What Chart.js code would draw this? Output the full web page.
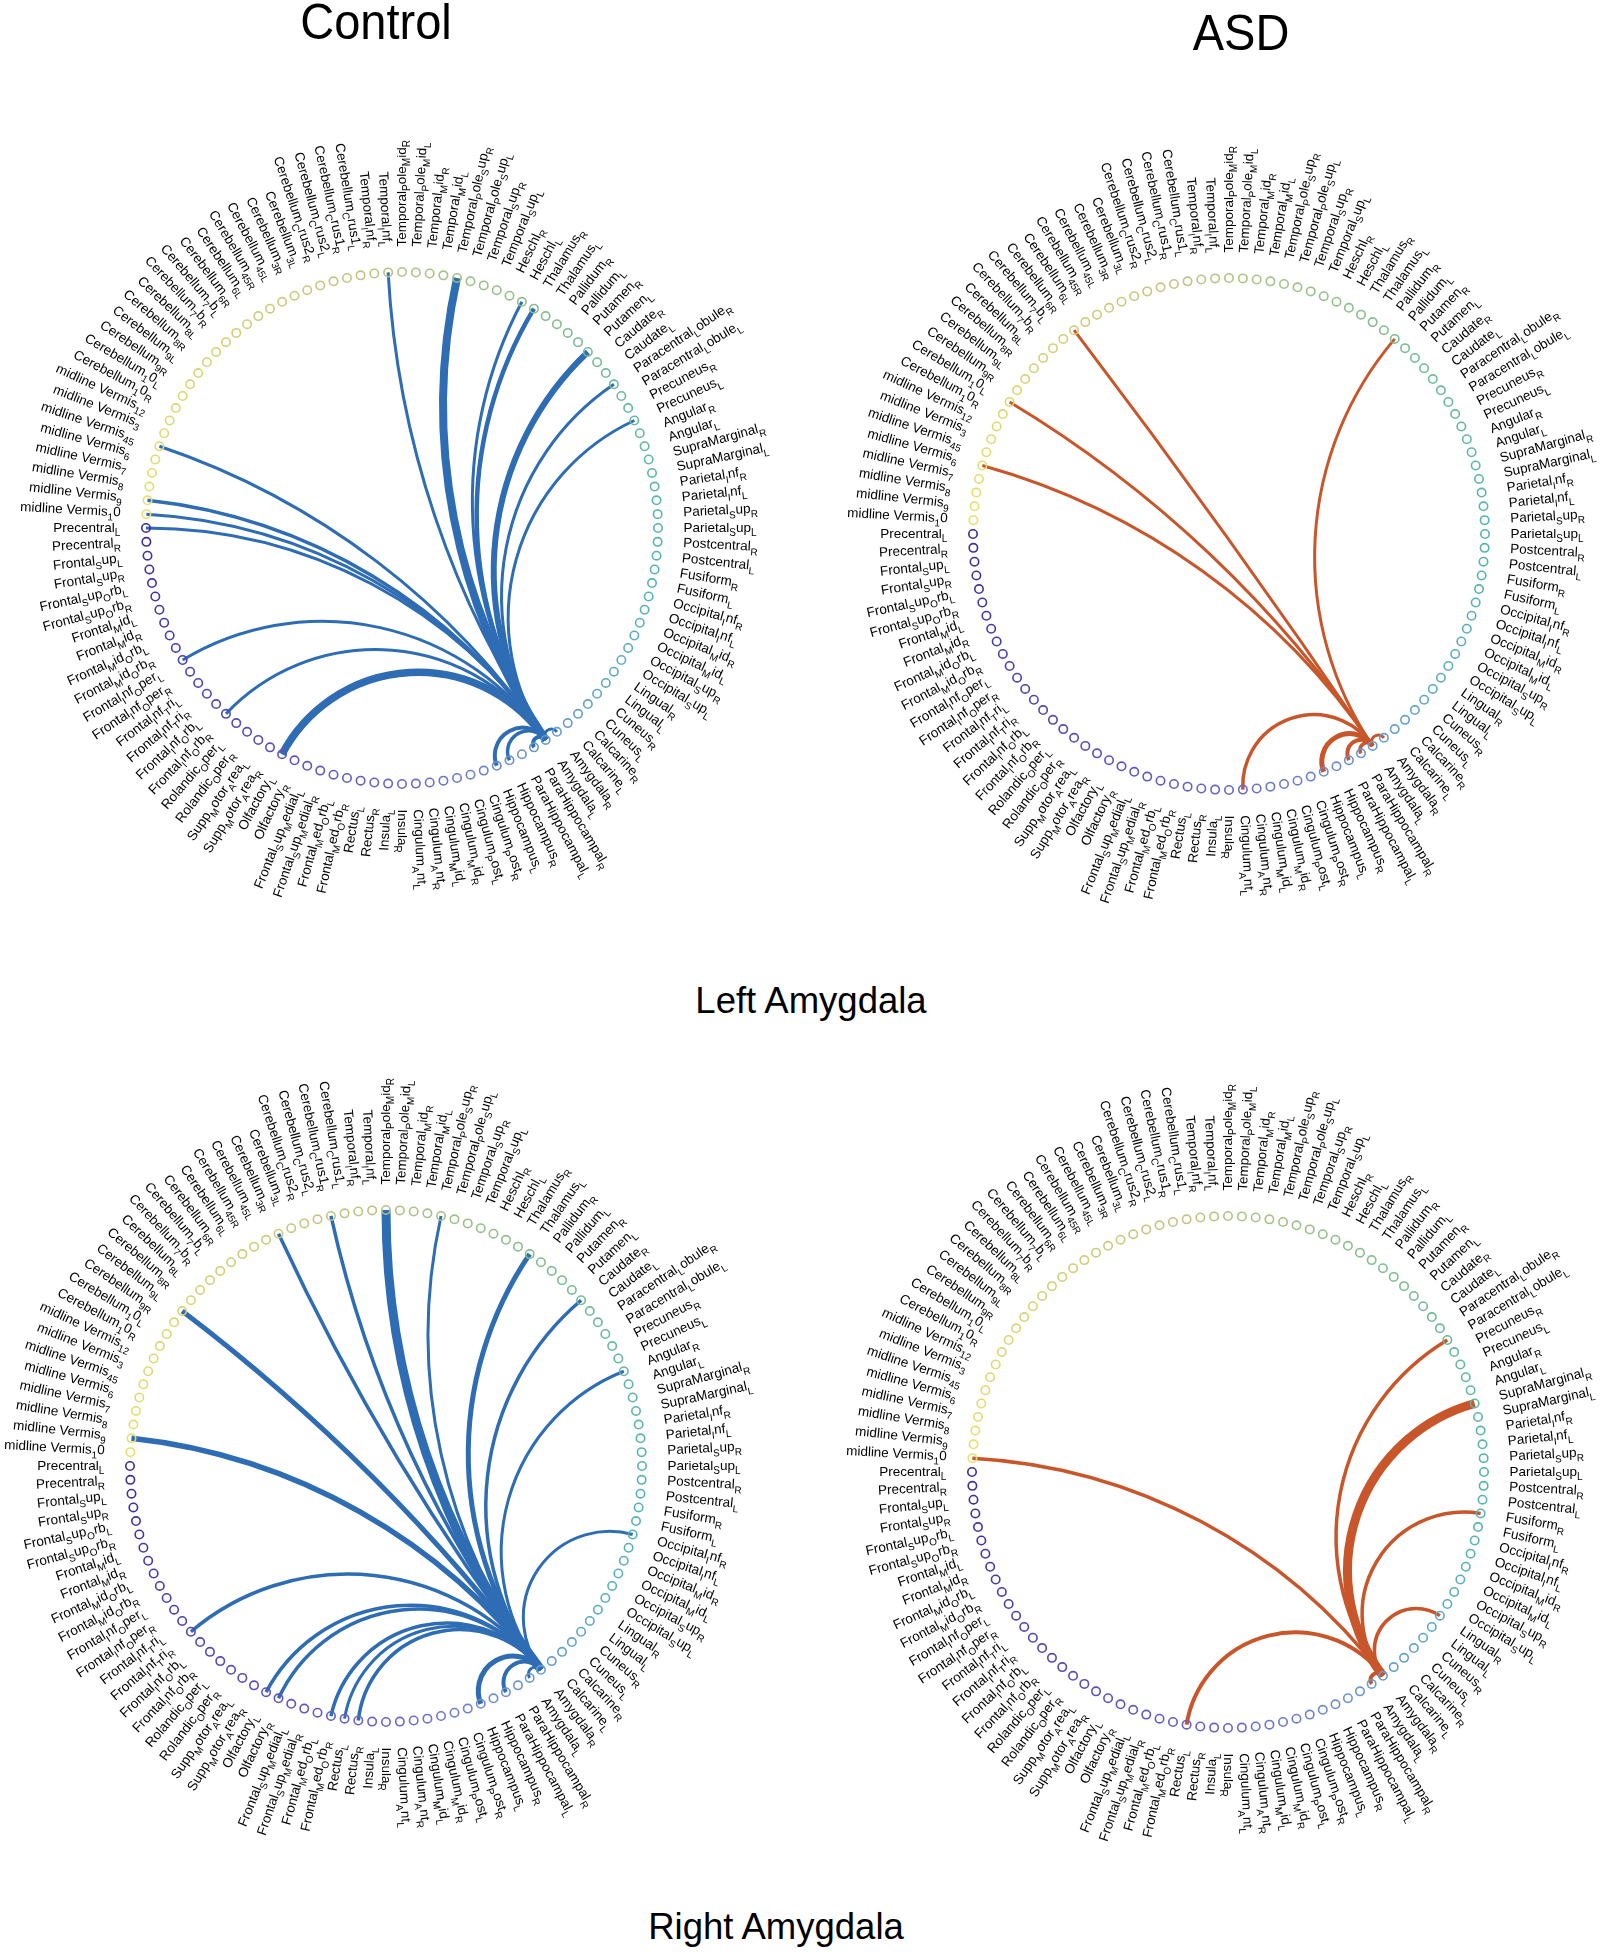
<!DOCTYPE html>
<html>
<head>
<meta charset="utf-8">
<script src="https://cdn.jsdelivr.net/npm/chart.js@4.4.1/dist/chart.umd.min.js"></script>
<style>
  html, body { margin: 0; padding: 0; background: #fff; }
  body { width: 1600px; height: 1952px; position: relative; overflow: hidden; font-family: "Liberation Sans", Arial, sans-serif; }
  canvas.ring { position: absolute; }
  .title { position: absolute; color: #000; white-space: nowrap; line-height: 1; transform: translateX(-50%) scaleX(0.94); }
  .sub { transform: translateX(-50%); }
</style>
</head>
<body>
<div class="title" style="left:376px; top:-3px; font-size:50px;">Control</div>
<div class="title" style="left:1241px; top:8px; font-size:50px;">ASD</div>
<div class="title sub" style="left:811px; top:983px; font-size:36.5px;">Left Amygdala</div>
<div class="title sub" style="left:776px; top:1909px; font-size:36.5px;">Right Amygdala</div>

<canvas class="ring" id="ctrlLeft" width="880" height="880"></canvas>
<canvas class="ring" id="asdLeft" width="880" height="880"></canvas>
<canvas class="ring" id="ctrlRight" width="880" height="880"></canvas>
<canvas class="ring" id="asdRight" width="880" height="880"></canvas>

<script>
// region labels in ring order (TeX-like: "_x" or "_{xy}" is subscript)
const regions = [
  'Precentral_L', 'Precentral_R', 'Frontal_Sup_L', 'Frontal_Sup_R',
  'Frontal_Sup_Orb_L', 'Frontal_Sup_Orb_R', 'Frontal_Mid_L', 'Frontal_Mid_R',
  'Frontal_Mid_Orb_L', 'Frontal_Mid_Orb_R', 'Frontal_Inf_Oper_L', 'Frontal_Inf_Oper_R',
  'Frontal_Inf_Tri_L', 'Frontal_Inf_Tri_R', 'Frontal_Inf_Orb_L', 'Frontal_Inf_Orb_R',
  'Rolandic_Oper_L', 'Rolandic_Oper_R', 'Supp_Motor_Area_L', 'Supp_Motor_Area_R',
  'Olfactory_L', 'Olfactory_R', 'Frontal_Sup_Medial_L', 'Frontal_Sup_Medial_R',
  'Frontal_Med_Orb_L', 'Frontal_Med_Orb_R', 'Rectus_L', 'Rectus_R',
  'Insula_L', 'Insula_R', 'Cingulum_Ant_L', 'Cingulum_Ant_R',
  'Cingulum_Mid_L', 'Cingulum_Mid_R', 'Cingulum_Post_L', 'Cingulum_Post_R',
  'Hippocampus_L', 'Hippocampus_R', 'ParaHippocampal_L', 'ParaHippocampal_R',
  'Amygdala_L', 'Amygdala_R', 'Calcarine_L', 'Calcarine_R',
  'Cuneus_L', 'Cuneus_R', 'Lingual_L', 'Lingual_R',
  'Occipital_Sup_L', 'Occipital_Sup_R', 'Occipital_Mid_L', 'Occipital_Mid_R',
  'Occipital_Inf_L', 'Occipital_Inf_R', 'Fusiform_L', 'Fusiform_R',
  'Postcentral_L', 'Postcentral_R', 'Parietal_Sup_L', 'Parietal_Sup_R',
  'Parietal_Inf_L', 'Parietal_Inf_R', 'SupraMarginal_L', 'SupraMarginal_R',
  'Angular_L', 'Angular_R', 'Precuneus_L', 'Precuneus_R',
  'Paracentral_Lobule_L', 'Paracentral_Lobule_R', 'Caudate_L', 'Caudate_R',
  'Putamen_L', 'Putamen_R', 'Pallidum_L', 'Pallidum_R',
  'Thalamus_L', 'Thalamus_R', 'Heschl_L', 'Heschl_R',
  'Temporal_Sup_L', 'Temporal_Sup_R', 'Temporal_Pole_Sup_L', 'Temporal_Pole_Sup_R',
  'Temporal_Mid_L', 'Temporal_Mid_R', 'Temporal_Pole_Mid_L', 'Temporal_Pole_Mid_R',
  'Temporal_Inf_L', 'Temporal_Inf_R', 'Cerebellum_Crus1_L', 'Cerebellum_Crus1_R',
  'Cerebellum_Crus2_L', 'Cerebellum_Crus2_R', 'Cerebellum_{3L}', 'Cerebellum_{3R}',
  'Cerebellum_{45L}', 'Cerebellum_{45R}', 'Cerebellum_{6L}', 'Cerebellum_{6R}',
  'Cerebellum_7b_L', 'Cerebellum_7b_R', 'Cerebellum_{8L}', 'Cerebellum_{8R}',
  'Cerebellum_{9L}', 'Cerebellum_{9R}', 'Cerebellum_10_L', 'Cerebellum_10_R',
  'midline Vermis_{12}', 'midline Vermis_3', 'midline Vermis_{45}', 'midline Vermis_6',
  'midline Vermis_7', 'midline Vermis_8', 'midline Vermis_9', 'midline Vermis_10'
];

// Left amygdala, control
const ctrlLeftTargets = ['Precentral_L', 'Frontal_Inf_Oper_L', 'Frontal_Inf_Orb_R', 'Olfactory_L',
  'Hippocampus_L', 'Hippocampus_R', 'ParaHippocampal_R', 'Amygdala_R', 'Precuneus_L',
  'Paracentral_Lobule_R', 'Putamen_L', 'Thalamus_R', 'Heschl_L', 'Temporal_Pole_Sup_R',
  'Temporal_Inf_L', 'midline Vermis_{45}', 'midline Vermis_9', 'midline Vermis_10'];
const ctrlLeftStrength = [3, 3, 3, 7.5, 4, 3.5, 4, 3, 3, 3, 6, 4.5, 3, 8, 3, 3, 3.5, 3];

// Left amygdala, ASD
const asdLeftTargets = ['Cingulum_Ant_L', 'Hippocampus_L', 'ParaHippocampal_L', 'ParaHippocampal_R',
  'Amygdala_R', 'Pallidum_L', 'Cerebellum_{6R}', 'Cerebellum_10_L', 'midline Vermis_6'];
const asdLeftStrength = [3.5, 5, 4, 3.5, 3, 3, 3, 3, 3];

// Right amygdala, control
const ctrlRightTargets = ['Frontal_Inf_Tri_R', 'Olfactory_L', 'Olfactory_R', 'Frontal_Med_Orb_R',
  'Rectus_L', 'Rectus_R', 'Hippocampus_L', 'ParaHippocampal_L', 'Amygdala_L', 'Occipital_Inf_R',
  'Angular_R', 'Caudate_R', 'Thalamus_L', 'Temporal_Pole_Sup_R', 'Temporal_Pole_Mid_R',
  'Cerebellum_Crus1_R', 'Cerebellum_{3R}', 'Cerebellum_{9L}', 'midline Vermis_9'];
const ctrlRightStrength = [3.5, 3.5, 3.5, 3.5, 3, 3.5, 5, 4, 3, 3, 3, 3.5, 5, 3, 9, 3.5, 3.5, 5, 5.5];

// Right amygdala, ASD
const asdRightTargets = ['Rectus_L', 'Amygdala_L', 'Lingual_R', 'Fusiform_R', 'SupraMarginal_R',
  'Paracentral_Lobule_L', 'midline Vermis_10'];
const asdRightStrength = [4, 4, 3.5, 3.5, 9, 3.5, 3.5];

const BLUE = '#2e6cb4';
const ORANGE = '#c9562a';
const HALF = 440;          // half canvas size, px
const RING_PX = 256;       // ring radius, px
const LIM = HALF / RING_PX;

const colorStops = [
  [0, '#3a2e94'], [0.1, '#4e42ae'], [0.2, '#6258c2'], [0.26, '#6a6aca'], [0.3, '#7082cc'],
  [0.35, '#689ccc'], [0.42, '#5aaec4'], [0.5, '#54b4ae'], [0.6, '#6aba9e'], [0.66, '#86be8e'],
  [0.72, '#a2c088'], [0.78, '#bec482'], [0.88, '#d4d076'], [1, '#e8e06a']
];

function hexToRgb(h) {
  return [parseInt(h.slice(1, 3), 16), parseInt(h.slice(3, 5), 16), parseInt(h.slice(5, 7), 16)];
}
function ringColor(t) {
  for (let k = 1; k < colorStops.length; k++) {
    if (t <= colorStops[k][0]) {
      const [t0, c0] = colorStops[k - 1], [t1, c1] = colorStops[k];
      const f = (t - t0) / (t1 - t0), a = hexToRgb(c0), b = hexToRgb(c1);
      return `rgb(${a.map((v, j) => Math.round(v + (b[j] - v) * f)).join(',')})`;
    }
  }
  return colorStops[colorStops.length - 1][1];
}

function nodeAngle(i) {
  return Math.PI - i * 2 * Math.PI / regions.length;
}
const nodePoints = regions.map((_, i) => ({ x: Math.cos(nodeAngle(i)), y: Math.sin(nodeAngle(i)) }));
const nodeColors = regions.map((_, i) => ringColor(i / (regions.length - 1)));

function parseTex(s) {
  const segs = [];
  let buf = '';
  for (let k = 0; k < s.length; k++) {
    if (s[k] === '_') {
      if (buf) { segs.push({ text: buf, sub: false }); buf = ''; }
      if (s[k + 1] === '{') {
        const end = s.indexOf('}', k);
        segs.push({ text: s.slice(k + 2, end), sub: true });
        k = end;
      } else {
        segs.push({ text: s[k + 1], sub: true });
        k++;
      }
    } else {
      buf += s[k];
    }
  }
  if (buf) segs.push({ text: buf, sub: false });
  return segs;
}

const MAIN_FONT = '13.5px "Liberation Sans", Arial, sans-serif';
const SUB_FONT = '10px "Liberation Sans", Arial, sans-serif';

const linkPlugin = {
  id: 'links',
  beforeDatasetsDraw(chart, args, opts) {
    const { ctx, scales: { x, y } } = chart;
    const ox = x.getPixelForValue(0), oy = y.getPixelForValue(0);
    const hub = nodePoints[regions.indexOf(opts.hub)];
    const ax = x.getPixelForValue(hub.x), ay = y.getPixelForValue(hub.y);
    ctx.save();
    ctx.strokeStyle = opts.color;
    ctx.lineCap = 'butt';
    opts.targets.forEach((name, k) => {
      const p = nodePoints[regions.indexOf(name)];
      const bx = x.getPixelForValue(p.x), by = y.getPixelForValue(p.y);
      let phi = Math.abs(Math.atan2(ay - oy, ax - ox) - Math.atan2(by - oy, bx - ox));
      if (phi > Math.PI) phi = 2 * Math.PI - phi;
      const rad = Math.hypot(ax - ox, ay - oy);
      ctx.lineWidth = opts.strength[k];
      ctx.beginPath();
      ctx.moveTo(ax, ay);
      if (Math.PI - phi < 0.01) ctx.lineTo(bx, by);
      else ctx.arcTo(ox, oy, bx, by, rad * Math.tan(phi / 2));
      ctx.stroke();
    });
    ctx.restore();
  }
};

const labelPlugin = {
  id: 'ringLabels',
  afterDatasetsDraw(chart) {
    const { ctx, scales: { x, y } } = chart;
    ctx.save();
    ctx.fillStyle = '#000';
    ctx.textBaseline = 'middle';
    regions.forEach((name, i) => {
      const th = nodeAngle(i);
      const px = x.getPixelForValue(1.1 * Math.cos(th));
      const py = y.getPixelForValue(1.1 * Math.sin(th));
      const segs = parseTex(name);
      let w = 0;
      segs.forEach(s => { ctx.font = s.sub ? SUB_FONT : MAIN_FONT; w += ctx.measureText(s.text).width; });
      const right = Math.cos(th) > -1e-6;
      ctx.save();
      ctx.translate(px, py);
      ctx.rotate(right ? th : th + Math.PI);
      let cur = right ? 0 : -w;
      segs.forEach(s => {
        ctx.font = s.sub ? SUB_FONT : MAIN_FONT;
        ctx.fillText(s.text, cur, s.sub ? 5.5 : 0);
        cur += ctx.measureText(s.text).width;
      });
      ctx.restore();
    });
    ctx.restore();
  }
};

function drawPanel(id, cx, cy, hub, targets, strength, color) {
  const canvas = document.getElementById(id);
  canvas.style.left = (cx - HALF) + 'px';
  canvas.style.top = (cy - HALF) + 'px';
  new Chart(canvas, {
    type: 'scatter',
    data: {
      datasets: [{
        data: nodePoints,
        pointRadius: 4.2,
        pointBorderWidth: 1.6,
        pointBorderColor: nodeColors,
        pointBackgroundColor: 'rgba(255,255,255,0)',
        showLine: false
      }]
    },
    options: {
      responsive: false,
      animation: false,
      events: [],
      layout: { padding: 0, autoPadding: false },
      scales: {
        x: { type: 'linear', min: -LIM, max: LIM, display: false },
        y: { type: 'linear', min: -LIM, max: LIM, reverse: true, display: false }
      },
      plugins: {
        legend: { display: false },
        tooltip: { enabled: false },
        links: { hub: hub, targets: targets, strength: strength, color: color }
      }
    },
    plugins: [linkPlugin, labelPlugin]
  });
}

drawPanel('ctrlLeft', 402, 528, 'Amygdala_L', ctrlLeftTargets, ctrlLeftStrength, BLUE);
drawPanel('asdLeft', 1229, 534, 'Amygdala_L', asdLeftTargets, asdLeftStrength, ORANGE);
drawPanel('ctrlRight', 386, 1466, 'Amygdala_R', ctrlRightTargets, ctrlRightStrength, BLUE);
drawPanel('asdRight', 1228, 1472, 'Amygdala_R', asdRightTargets, asdRightStrength, ORANGE);
</script>
</body>
</html>
